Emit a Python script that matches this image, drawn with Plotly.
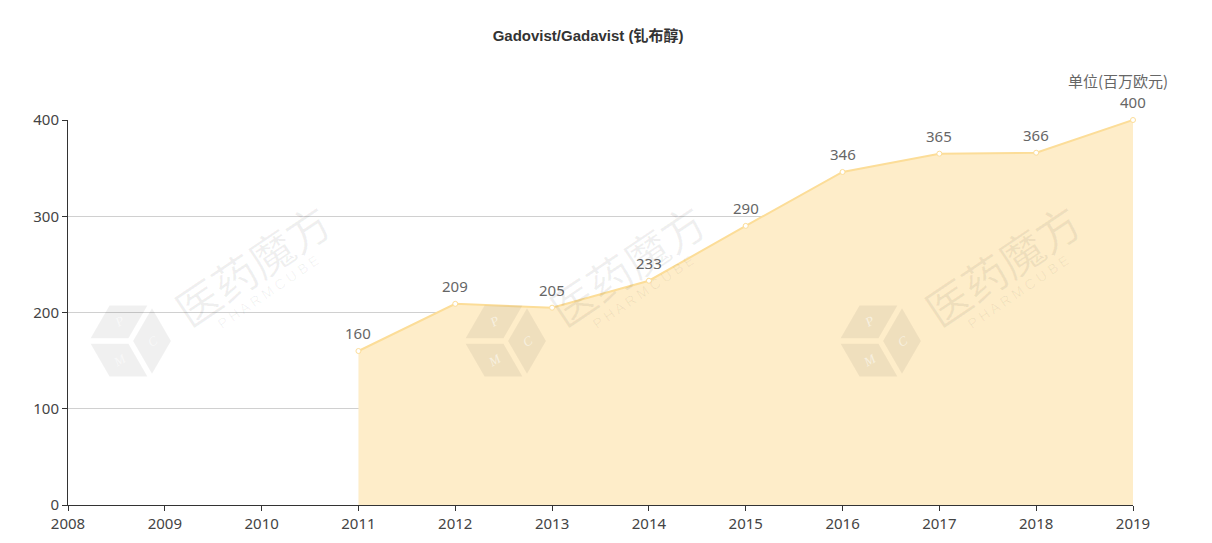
import math
import plotly.graph_objects as go

years = [2011, 2012, 2013, 2014, 2015, 2016, 2017, 2018, 2019]
sales = [160, 209, 205, 233, 290, 346, 365, 366, 400]
x_ticks = list(range(2008, 2020))
y_ticks = [0, 100, 200, 300, 400]

title_text = "Gadovist/Gadavist (钆布醇)"
unit_text = "单位(百万欧元)"

# plot-area pixel frame (reference) used only to place the decorative watermark
PX0, PX1, PY0, PY1 = 68, 1133, 505, 120


def to_paper(px, py):
    return (px - PX0) / (PX1 - PX0), (PY0 - py) / (PY0 - PY1)


fig = go.Figure()
fig.add_trace(go.Scatter(
    x=years, y=sales,
    mode="lines+markers",
    fill="tozeroy",
    fillcolor="rgba(254,237,201,1)",
    line=dict(color="#FCDD98", width=2),
    marker=dict(size=5, color="white", line=dict(color="#FCDD98", width=1)),
    cliponaxis=False,
    hoverinfo="x+y",
))

for xv, yv in zip(years, sales):
    fig.add_annotation(x=xv, y=yv, text=str(yv), showarrow=False, yshift=18,
                       xanchor="center", yanchor="middle",
                       font=dict(size=15, color="#666666", family="Noto Sans"))

# watermarks (decorative)
wm_color = "rgba(0,0,0,0.06)"
shapes = []
for ox in [0, 375, 750]:
    tx, ty = to_paper(252 + ox, 264)
    fig.add_annotation(xref="paper", yref="paper", x=tx, y=ty, text="医药魔方",
                       showarrow=False, textangle=-34, xanchor="center", yanchor="middle",
                       font=dict(size=44, color=wm_color, family="Noto Sans CJK SC"))
    px_, py_ = to_paper(268 + ox, 292)
    fig.add_annotation(xref="paper", yref="paper", x=px_, y=py_, text="P H A R M C U B E",
                       showarrow=False, textangle=-34, xanchor="center", yanchor="middle",
                       font=dict(size=14, color=wm_color, family="Liberation Sans"))
    # cube: three faces of a rotated hexagon
    cx, cy, R = 130 + ox, 341, 44
    verts = [(cx + R * math.cos(math.radians(60 * k)),
              cy + R * math.sin(math.radians(60 * k))) for k in range(6)]
    for k, letter in ((3, "P"), (5, "C"), (1, "M")):
        pts = [(cx, cy), verts[k], verts[(k + 1) % 6], verts[(k + 2) % 6]]
        gx = sum(p[0] for p in pts) / 4
        gy = sum(p[1] for p in pts) / 4
        pts = [(gx + (p[0] - gx) * 0.86, gy + (p[1] - gy) * 0.86) for p in pts]
        pp = [to_paper(*p) for p in pts]
        path = "M " + " L ".join(f"{a:.5f},{b:.5f}" for a, b in pp) + " Z"
        shapes.append(dict(type="path", xref="paper", yref="paper", path=path,
                           fillcolor=wm_color, line=dict(width=0), layer="above"))
        lx, ly = to_paper(gx, gy)
        fig.add_annotation(xref="paper", yref="paper", x=lx, y=ly, text="<i>" + letter + "</i>",
                           showarrow=False, textangle=-30, xanchor="center", yanchor="middle",
                           font=dict(size=13, color="rgba(255,255,255,0.55)", family="Liberation Serif"))

fig.add_annotation(xref="paper", yref="paper", x=1.0, y=1.0, xshift=-15, yshift=40, text=unit_text,
                   showarrow=False, xanchor="center", yanchor="middle",
                   font=dict(size=15, color="#666666", family="Noto Sans CJK SC"))

fig.update_layout(
    width=1212, height=543,
    margin=dict(l=60, r=87, t=112, b=46),
    paper_bgcolor="white", plot_bgcolor="white",
    showlegend=False,
    shapes=shapes,
    title=dict(text="<b>" + title_text + "</b>", x=0.4786, xanchor="center", y=0.948, yanchor="middle",
               font=dict(size=15, color="#333333", family="Liberation Sans, Noto Sans CJK SC")),
    xaxis=dict(range=[2008, 2019], tickvals=x_ticks, ticktext=[str(t) for t in x_ticks],
               showgrid=False, zeroline=False, showline=True, linecolor="#333333", linewidth=1,
               ticks="outside", ticklen=5, tickcolor="#333333",
               tickfont=dict(size=15, color="#444444", family="Noto Sans"),
               fixedrange=True, layer="above traces"),
    yaxis=dict(range=[0, 400], tickvals=y_ticks, showgrid=True, gridcolor="rgba(150,150,150,0.45)",
               zeroline=False, showline=True, linecolor="#333333", linewidth=1,
               ticks="outside", ticklen=5, tickcolor="#333333",
               tickfont=dict(size=15, color="#444444", family="Noto Sans"),
               fixedrange=True, layer="above traces"),
)

fig.write_html("out.html")
